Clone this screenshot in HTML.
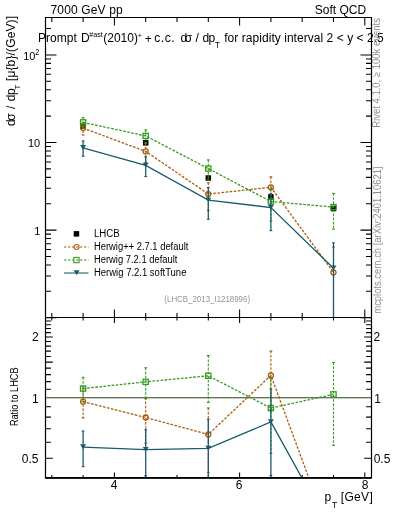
<!DOCTYPE html>
<html><head><meta charset="utf-8"><style>html,body{margin:0;padding:0;background:#fff;width:393px;height:512px;overflow:hidden}svg{display:block;will-change:transform}</style></head>
<body><svg width="393" height="512" viewBox="0 0 393 512">
<rect width="393" height="512" fill="#fff"/>
<defs><clipPath id="cm"><rect x="45.5" y="17.5" width="326" height="300"/></clipPath>
<clipPath id="cr"><rect x="45.5" y="317.5" width="326" height="160.4"/></clipPath></defs>
<path d="M45.5 317.7h11M371.5 317.7h-11M45.5 291.33h5.5M371.5 291.33h-5.5M45.5 275.9h5.5M371.5 275.9h-5.5M45.5 264.96h5.5M371.5 264.96h-5.5M45.5 256.47h5.5M371.5 256.47h-5.5M45.5 249.53h5.5M371.5 249.53h-5.5M45.5 243.67h5.5M371.5 243.67h-5.5M45.5 238.59h5.5M371.5 238.59h-5.5M45.5 234.11h5.5M371.5 234.11h-5.5M45.5 230.1h11M371.5 230.1h-11M45.5 203.73h5.5M371.5 203.73h-5.5M45.5 188.3h5.5M371.5 188.3h-5.5M45.5 177.36h5.5M371.5 177.36h-5.5M45.5 168.87h5.5M371.5 168.87h-5.5M45.5 161.93h5.5M371.5 161.93h-5.5M45.5 156.07h5.5M371.5 156.07h-5.5M45.5 150.99h5.5M371.5 150.99h-5.5M45.5 146.51h5.5M371.5 146.51h-5.5M45.5 142.5h11M371.5 142.5h-11M45.5 116.13h5.5M371.5 116.13h-5.5M45.5 100.7h5.5M371.5 100.7h-5.5M45.5 89.76h5.5M371.5 89.76h-5.5M45.5 81.27h5.5M371.5 81.27h-5.5M45.5 74.33h5.5M371.5 74.33h-5.5M45.5 68.47h5.5M371.5 68.47h-5.5M45.5 63.39h5.5M371.5 63.39h-5.5M45.5 58.91h5.5M371.5 58.91h-5.5M45.5 54.9h11M371.5 54.9h-11M45.5 28.53h5.5M371.5 28.53h-5.5M51.8 17.5v4.5M51.8 317.5v-4.5M51.8 317.5v3M51.8 477.9v-3M83.1 17.5v4.5M83.1 317.5v-4.5M83.1 317.5v3M83.1 477.9v-3M114.4 17.5v8M114.4 317.5v-8M114.4 317.5v5.5M114.4 477.9v-5.5M145.7 17.5v4.5M145.7 317.5v-4.5M145.7 317.5v3M145.7 477.9v-3M177 17.5v4.5M177 317.5v-4.5M177 317.5v3M177 477.9v-3M208.3 17.5v4.5M208.3 317.5v-4.5M208.3 317.5v3M208.3 477.9v-3M239.6 17.5v8M239.6 317.5v-8M239.6 317.5v5.5M239.6 477.9v-5.5M270.9 17.5v4.5M270.9 317.5v-4.5M270.9 317.5v3M270.9 477.9v-3M302.2 17.5v4.5M302.2 317.5v-4.5M302.2 317.5v3M302.2 477.9v-3M333.5 17.5v4.5M333.5 317.5v-4.5M333.5 317.5v3M333.5 477.9v-3M364.8 17.5v8M364.8 317.5v-8M364.8 317.5v5.5M364.8 477.9v-5.5M45.5 458.29h7.3M371.5 458.29h-7.3M45.5 442.32h5.4M371.5 442.32h-5.4M45.5 428.83h5.4M371.5 428.83h-5.4M45.5 417.14h5.4M371.5 417.14h-5.4M45.5 406.82h5.4M371.5 406.82h-5.4M45.5 397.6h7.3M371.5 397.6h-7.3M45.5 389.26h5.4M371.5 389.26h-5.4M45.5 381.64h5.4M371.5 381.64h-5.4M45.5 374.63h5.4M371.5 374.63h-5.4M45.5 368.14h5.4M371.5 368.14h-5.4M45.5 362.1h7.3M371.5 362.1h-7.3M45.5 356.45h5.4M371.5 356.45h-5.4M45.5 351.14h5.4M371.5 351.14h-5.4M45.5 346.14h5.4M371.5 346.14h-5.4M45.5 341.4h5.4M371.5 341.4h-5.4M45.5 336.91h7.3M371.5 336.91h-7.3M45.5 332.64h5.4M371.5 332.64h-5.4M45.5 328.57h5.4M371.5 328.57h-5.4M45.5 324.68h5.4M371.5 324.68h-5.4M45.5 320.95h5.4M371.5 320.95h-5.4" stroke="#000" stroke-width="1.05" fill="none"/>
<rect x="45.5" y="397" width="326" height="1" fill="#5b7d4c"/>
<rect x="45.5" y="398" width="326" height="1" fill="#c9c6c9"/>
<g><rect x="80.35" y="123.57" width="5.5" height="5.5" fill="#000"/><rect x="142.95" y="140.02" width="5.5" height="5.5" fill="#000"/><rect x="205.55" y="175.28" width="5.5" height="5.5" fill="#000"/><rect x="268.15" y="194.2" width="5.5" height="5.5" fill="#000"/><rect x="330.75" y="205.76" width="5.5" height="5.5" fill="#000"/></g>
<g clip-path="url(#cm)"><path d="M83.1 128.1 L145.7 151.42 L208.3 194.04 L270.9 187.3 L333.5 272.39" stroke="#ad5a0c" stroke-width="1.3" fill="none" stroke-dasharray="2.6 1.5"/><rect x="81.7" y="121.79" width="2.8" height="1.1" fill="#ad5a0c"/><rect x="81.7" y="134.45" width="2.8" height="1.1" fill="#ad5a0c"/><rect x="144.3" y="142.43" width="2.8" height="1.1" fill="#ad5a0c"/><rect x="144.3" y="161.9" width="2.8" height="1.1" fill="#ad5a0c"/><rect x="206.9" y="182.14" width="2.8" height="1.1" fill="#ad5a0c"/><rect x="206.9" y="210.02" width="2.8" height="1.1" fill="#ad5a0c"/><rect x="269.5" y="176.31" width="2.8" height="1.1" fill="#ad5a0c"/><rect x="269.5" y="201.44" width="2.8" height="1.1" fill="#ad5a0c"/><rect x="332.1" y="246.42" width="2.8" height="1.1" fill="#ad5a0c"/><rect x="332.1" y="397.56" width="2.8" height="1.1" fill="#ad5a0c"/><path d="M83.1 122.09V135.25M145.7 142.73V162.7M208.3 182.44V210.82M270.9 176.61V202.24M333.5 246.72V398.36" stroke="#ad5a0c" stroke-width="1.1" fill="none" stroke-dasharray="2.6 1.5"/><circle cx="83.1" cy="128.1" r="2.5" fill="none" stroke="#ad5a0c" stroke-width="1.3"/><circle cx="145.7" cy="151.42" r="2.5" fill="none" stroke="#ad5a0c" stroke-width="1.3"/><circle cx="208.3" cy="194.04" r="2.5" fill="none" stroke="#ad5a0c" stroke-width="1.3"/><circle cx="270.9" cy="187.3" r="2.5" fill="none" stroke="#ad5a0c" stroke-width="1.3"/><circle cx="333.5" cy="272.39" r="2.5" fill="none" stroke="#ad5a0c" stroke-width="1.3"/></g>
<g clip-path="url(#cm)"><path d="M83.1 122.4 L145.7 135.91 L208.3 168.57 L270.9 201.51 L333.5 207.11" stroke="#339a1c" stroke-width="1.3" fill="none" stroke-dasharray="2.6 1.5"/><rect x="81.7" y="117.11" width="2.8" height="1.1" fill="#339a1c"/><rect x="81.7" y="127.35" width="2.8" height="1.1" fill="#339a1c"/><rect x="144.3" y="129.4" width="2.8" height="1.1" fill="#339a1c"/><rect x="144.3" y="142.55" width="2.8" height="1.1" fill="#339a1c"/><rect x="206.9" y="159.36" width="2.8" height="1.1" fill="#339a1c"/><rect x="206.9" y="179.42" width="2.8" height="1.1" fill="#339a1c"/><rect x="269.5" y="188.26" width="2.8" height="1.1" fill="#339a1c"/><rect x="269.5" y="220.51" width="2.8" height="1.1" fill="#339a1c"/><rect x="332.1" y="192.87" width="2.8" height="1.1" fill="#339a1c"/><rect x="332.1" y="228.55" width="2.8" height="1.1" fill="#339a1c"/><path d="M83.1 117.41V128.15M145.7 129.7V143.35M208.3 159.66V180.22M270.9 188.56V221.31M333.5 193.17V229.35" stroke="#339a1c" stroke-width="1.1" fill="none" stroke-dasharray="2.6 1.5"/><rect x="80.5" y="119.8" width="5.2" height="5.2" fill="none" stroke="#339a1c" stroke-width="1.3"/><rect x="143.1" y="133.31" width="5.2" height="5.2" fill="none" stroke="#339a1c" stroke-width="1.3"/><rect x="205.7" y="165.97" width="5.2" height="5.2" fill="none" stroke="#339a1c" stroke-width="1.3"/><rect x="268.3" y="198.91" width="5.2" height="5.2" fill="none" stroke="#339a1c" stroke-width="1.3"/><rect x="330.9" y="204.51" width="5.2" height="5.2" fill="none" stroke="#339a1c" stroke-width="1.3"/></g>
<g clip-path="url(#cm)"><path d="M83.1 147.8 L145.7 165.38 L208.3 200.1 L270.9 207.53 L333.5 268.24" stroke="#1b5b6b" stroke-width="1.3" fill="none"/><rect x="81.7" y="140.45" width="2.8" height="1.1" fill="#1b5b6b"/><rect x="81.7" y="155.65" width="2.8" height="1.1" fill="#1b5b6b"/><rect x="144.3" y="156.32" width="2.8" height="1.1" fill="#1b5b6b"/><rect x="144.3" y="175.99" width="2.8" height="1.1" fill="#1b5b6b"/><rect x="206.9" y="187" width="2.8" height="1.1" fill="#1b5b6b"/><rect x="206.9" y="218.74" width="2.8" height="1.1" fill="#1b5b6b"/><rect x="269.5" y="192.87" width="2.8" height="1.1" fill="#1b5b6b"/><rect x="269.5" y="230.07" width="2.8" height="1.1" fill="#1b5b6b"/><rect x="332.1" y="242.3" width="2.8" height="1.1" fill="#1b5b6b"/><rect x="332.1" y="391.7" width="2.8" height="1.1" fill="#1b5b6b"/><path d="M83.1 140.75V156.45M145.7 156.62V176.79M208.3 187.3V219.54M270.9 193.17V230.87M333.5 242.6V392.5" stroke="#1b5b6b" stroke-width="1.3" fill="none"/><path d="M80.1 145.1h6l-3 4.8z" fill="#1b5b6b"/><path d="M142.7 162.68h6l-3 4.8z" fill="#1b5b6b"/><path d="M205.3 197.4h6l-3 4.8z" fill="#1b5b6b"/><path d="M267.9 204.83h6l-3 4.8z" fill="#1b5b6b"/><path d="M330.5 265.54h6l-3 4.8z" fill="#1b5b6b"/></g>
<g clip-path="url(#cr)"><path d="M83.1 401.7 L145.7 417.51 L208.3 434.45 L270.9 375.39 L333.5 544.63" stroke="#ad5a0c" stroke-width="1.3" fill="none" stroke-dasharray="2.6 1.5"/><rect x="81.7" y="387.56" width="2.8" height="1.1" fill="#ad5a0c"/><rect x="81.7" y="417.34" width="2.8" height="1.1" fill="#ad5a0c"/><rect x="144.3" y="397.21" width="2.8" height="1.1" fill="#ad5a0c"/><rect x="144.3" y="442.68" width="2.8" height="1.1" fill="#ad5a0c"/><rect x="206.9" y="407.45" width="2.8" height="1.1" fill="#ad5a0c"/><rect x="206.9" y="472.26" width="2.8" height="1.1" fill="#ad5a0c"/><rect x="269.5" y="350.48" width="2.8" height="1.1" fill="#ad5a0c"/><rect x="269.5" y="408.96" width="2.8" height="1.1" fill="#ad5a0c"/><path d="M83.1 387.86V418.14M145.7 397.51V443.48M208.3 407.75V473.06M270.9 350.78V409.76" stroke="#ad5a0c" stroke-width="1.1" fill="none" stroke-dasharray="2.6 1.5"/><circle cx="83.1" cy="401.7" r="2.5" fill="none" stroke="#ad5a0c" stroke-width="1.3"/><circle cx="145.7" cy="417.51" r="2.5" fill="none" stroke="#ad5a0c" stroke-width="1.3"/><circle cx="208.3" cy="434.45" r="2.5" fill="none" stroke="#ad5a0c" stroke-width="1.3"/><circle cx="270.9" cy="375.39" r="2.5" fill="none" stroke="#ad5a0c" stroke-width="1.3"/></g>
<g clip-path="url(#cr)"><path d="M83.1 388.58 L145.7 381.83 L208.3 375.82 L270.9 408.1 L333.5 394.38" stroke="#339a1c" stroke-width="1.3" fill="none" stroke-dasharray="2.6 1.5"/><rect x="81.7" y="376.78" width="2.8" height="1.1" fill="#339a1c"/><rect x="81.7" y="401.02" width="2.8" height="1.1" fill="#339a1c"/><rect x="144.3" y="367.23" width="2.8" height="1.1" fill="#339a1c"/><rect x="144.3" y="398.13" width="2.8" height="1.1" fill="#339a1c"/><rect x="206.9" y="355.02" width="2.8" height="1.1" fill="#339a1c"/><rect x="206.9" y="401.84" width="2.8" height="1.1" fill="#339a1c"/><rect x="269.5" y="377.98" width="2.8" height="1.1" fill="#339a1c"/><rect x="269.5" y="452.85" width="2.8" height="1.1" fill="#339a1c"/><rect x="332.1" y="362" width="2.8" height="1.1" fill="#339a1c"/><rect x="332.1" y="444.76" width="2.8" height="1.1" fill="#339a1c"/><path d="M83.1 377.08V401.82M145.7 367.53V398.93M208.3 355.32V402.64M270.9 378.28V453.65M333.5 362.3V445.56" stroke="#339a1c" stroke-width="1.1" fill="none" stroke-dasharray="2.6 1.5"/><rect x="80.5" y="385.98" width="5.2" height="5.2" fill="none" stroke="#339a1c" stroke-width="1.3"/><rect x="143.1" y="379.23" width="5.2" height="5.2" fill="none" stroke="#339a1c" stroke-width="1.3"/><rect x="205.7" y="373.22" width="5.2" height="5.2" fill="none" stroke="#339a1c" stroke-width="1.3"/><rect x="268.3" y="405.5" width="5.2" height="5.2" fill="none" stroke="#339a1c" stroke-width="1.3"/><rect x="330.9" y="391.78" width="5.2" height="5.2" fill="none" stroke="#339a1c" stroke-width="1.3"/></g>
<g clip-path="url(#cr)"><path d="M83.1 447.03 L145.7 449.65 L208.3 448.4 L270.9 421.94 L333.5 535.06" stroke="#1b5b6b" stroke-width="1.3" fill="none"/><rect x="81.7" y="430.51" width="2.8" height="1.1" fill="#1b5b6b"/><rect x="81.7" y="466.14" width="2.8" height="1.1" fill="#1b5b6b"/><rect x="144.3" y="429.17" width="2.8" height="1.1" fill="#1b5b6b"/><rect x="144.3" y="475.11" width="2.8" height="1.1" fill="#1b5b6b"/><rect x="206.9" y="418.64" width="2.8" height="1.1" fill="#1b5b6b"/><rect x="206.9" y="492.32" width="2.8" height="1.1" fill="#1b5b6b"/><rect x="269.5" y="388.59" width="2.8" height="1.1" fill="#1b5b6b"/><rect x="269.5" y="474.85" width="2.8" height="1.1" fill="#1b5b6b"/><path d="M83.1 430.81V466.94M145.7 429.47V475.91M208.3 418.94V493.12M270.9 388.89V475.65" stroke="#1b5b6b" stroke-width="1.3" fill="none"/><path d="M80.1 444.33h6l-3 4.8z" fill="#1b5b6b"/><path d="M142.7 446.95h6l-3 4.8z" fill="#1b5b6b"/><path d="M205.3 445.7h6l-3 4.8z" fill="#1b5b6b"/><path d="M267.9 419.24h6l-3 4.8z" fill="#1b5b6b"/></g>
<path d="M45.5 17.5H371.5V477.9H45.5Z M45.5 317.5H371.5" stroke="#000" stroke-width="1.2" fill="none"/>
<path d="M45.5 477.9H371.5" stroke="#000" stroke-width="1.6" fill="none"/>
<rect x="73.7" y="231.1" width="5.5" height="5.5" fill="#000"/>
<path d="M64 247H88.5" stroke="#ad5a0c" stroke-width="1.05" stroke-dasharray="2.4 1.6"/>
<circle cx="76.6" cy="246.9" r="2.5" fill="none" stroke="#ad5a0c" stroke-width="1.05"/>
<path d="M64 260H88.5" stroke="#339a1c" stroke-width="1.05" stroke-dasharray="2.4 1.6"/>
<rect x="73.8" y="257.4" width="5.3" height="5.3" fill="none" stroke="#339a1c" stroke-width="1.05"/>
<path d="M64 273H88.5" stroke="#1b5b6b" stroke-width="1.05"/>
<path d="M73.6 270.2h6l-3 5z" fill="#1b5b6b"/>
<text x="93.98" y="236.8" font-size="10" fill="#000" font-family="Liberation Sans, sans-serif" textLength="25.75" lengthAdjust="spacingAndGlyphs">LHCB</text>
<text x="93.98" y="249.7" font-size="10" fill="#000" font-family="Liberation Sans, sans-serif" textLength="94.39" lengthAdjust="spacingAndGlyphs">Herwig++ 2.7.1 default</text>
<text x="93.98" y="262.6" font-size="10" fill="#000" font-family="Liberation Sans, sans-serif" textLength="83.49" lengthAdjust="spacingAndGlyphs">Herwig 7.2.1 default</text>
<text x="93.98" y="275.5" font-size="10" fill="#000" font-family="Liberation Sans, sans-serif" textLength="92.47" lengthAdjust="spacingAndGlyphs">Herwig 7.2.1 softTune</text>
<text x="164.37" y="301.6" font-size="8.6" fill="#959595" font-family="Liberation Sans, sans-serif" textLength="85.67" lengthAdjust="spacingAndGlyphs">(LHCB_2013_I1218996)</text>
<text x="50.49" y="13.7" font-size="12" fill="#000" font-family="Liberation Sans, sans-serif" textLength="72.22" lengthAdjust="spacing">7000 GeV pp</text>
<text x="314.75" y="13.7" font-size="12" fill="#000" font-family="Liberation Sans, sans-serif" textLength="51.43" lengthAdjust="spacing">Soft QCD</text>
<text x="38.12" y="42" font-size="12" fill="#000" font-family="Liberation Sans, sans-serif" textLength="38.67" lengthAdjust="spacing">Prompt</text>
<text x="81.12" y="42" font-size="12" fill="#000" font-family="Liberation Sans, sans-serif">D</text>
<text x="89.37" y="37.1" font-size="7.7" fill="#000" font-family="Liberation Sans, sans-serif" textLength="13.49" lengthAdjust="spacingAndGlyphs">#ast</text>
<text x="103.16" y="42" font-size="12" fill="#000" font-family="Liberation Sans, sans-serif" textLength="34.88" lengthAdjust="spacing">(2010)</text>
<text x="137.65" y="38.4" font-size="7.2" fill="#000" font-family="Liberation Sans, sans-serif">+</text>
<text x="144.71" y="43" font-size="12" fill="#000" font-family="Liberation Sans, sans-serif">+</text>
<text x="154.3" y="42" font-size="12" fill="#000" font-family="Liberation Sans, sans-serif" textLength="20.39" lengthAdjust="spacing">c.c.</text>
<text x="180.5" y="42" font-size="12" fill="#000" font-family="Liberation Sans, sans-serif">d</text>
<text x="184.7" y="42" font-size="12" fill="#000" font-family="Liberation Sans, sans-serif">σ</text>
<text x="195.4" y="42" font-size="12" fill="#000" font-family="Liberation Sans, sans-serif">/</text>
<text x="202.6" y="42" font-size="12" fill="#000" font-family="Liberation Sans, sans-serif" textLength="12.71" lengthAdjust="spacing">dp</text>
<text x="215.11" y="48.1" font-size="8.8" fill="#000" font-family="Liberation Sans, sans-serif" textLength="4.89" lengthAdjust="spacingAndGlyphs">T</text>
<text x="224.23" y="42" font-size="12" fill="#000" font-family="Liberation Sans, sans-serif" textLength="159.58" lengthAdjust="spacing">for rapidity interval 2 &lt; y &lt; 2.5</text>
<text x="35.43" y="59.6" font-size="11" fill="#000" text-anchor="end" font-family="Liberation Sans, sans-serif">10</text>
<text x="35.16" y="54.9" font-size="8.8" fill="#000" font-family="Liberation Sans, sans-serif" textLength="3.98" lengthAdjust="spacingAndGlyphs">2</text>
<text x="40.23" y="146.9" font-size="11" fill="#000" text-anchor="end" font-family="Liberation Sans, sans-serif">10</text>
<text x="40.44" y="234.8" font-size="11" fill="#000" text-anchor="end" font-family="Liberation Sans, sans-serif">1</text>
<text x="38.8" y="341" font-size="12" fill="#000" text-anchor="end" font-family="Liberation Sans, sans-serif">2</text>
<text x="38.79" y="403" font-size="12" fill="#000" text-anchor="end" font-family="Liberation Sans, sans-serif">1</text>
<text x="38.41" y="462.5" font-size="12" fill="#000" text-anchor="end" font-family="Liberation Sans, sans-serif">0.5</text>
<text x="373.5" y="341" font-size="12" fill="#000" font-family="Liberation Sans, sans-serif">2</text>
<text x="374.19" y="403" font-size="12" fill="#000" font-family="Liberation Sans, sans-serif">1</text>
<text x="373.63" y="462.5" font-size="12" fill="#000" font-family="Liberation Sans, sans-serif">0.5</text>
<text x="110.7" y="489.2" font-size="12" fill="#000" font-family="Liberation Sans, sans-serif">4</text>
<text x="235.72" y="489.2" font-size="12" fill="#000" font-family="Liberation Sans, sans-serif">6</text>
<text x="361.86" y="489.2" font-size="12" fill="#000" font-family="Liberation Sans, sans-serif">8</text>
<text x="324.62" y="500.6" font-size="12" fill="#000" font-family="Liberation Sans, sans-serif">p</text>
<text x="332.11" y="507.7" font-size="8.6" fill="#000" font-family="Liberation Sans, sans-serif">T</text>
<text x="340.75" y="500.6" font-size="12" fill="#000" font-family="Liberation Sans, sans-serif" textLength="32" lengthAdjust="spacing">[GeV]</text>
<g transform="translate(14.5,126) rotate(-90)" font-family="Liberation Sans, sans-serif"><text x="-0.1" y="0" font-size="12">d</text><text x="5.3" y="0" font-size="12">σ</text><text x="17.1" y="0" font-size="12">/</text><text x="24.7" y="0" font-size="12" textLength="13.01" lengthAdjust="spacing">dp</text><text x="36.62" y="5.6" font-size="8">T</text><text x="44.95" y="0" font-size="12" textLength="65.15" lengthAdjust="spacing">[μ{b}/(GeV)]</text></g>
<g transform="translate(18.2,426) rotate(-90)" font-family="Liberation Sans, sans-serif"><text x="-0.12" y="0" font-size="10" textLength="58.65" lengthAdjust="spacingAndGlyphs">Ratio to LHCB</text></g>
<g fill="#8e8e8e"><g transform="translate(380.2,128) rotate(-90)" font-family="Liberation Sans, sans-serif"><text x="0.18" y="0" font-size="10" textLength="109.78" lengthAdjust="spacingAndGlyphs">Rivet 4.1.0, ≥ 100k events</text></g><g transform="translate(380.5,314) rotate(-90)" font-family="Liberation Sans, sans-serif"><text x="0.34" y="0" font-size="10" textLength="147.16" lengthAdjust="spacingAndGlyphs">mcplots.cern.ch [arXiv:2401.10621]</text></g></g>
</svg></body></html>
